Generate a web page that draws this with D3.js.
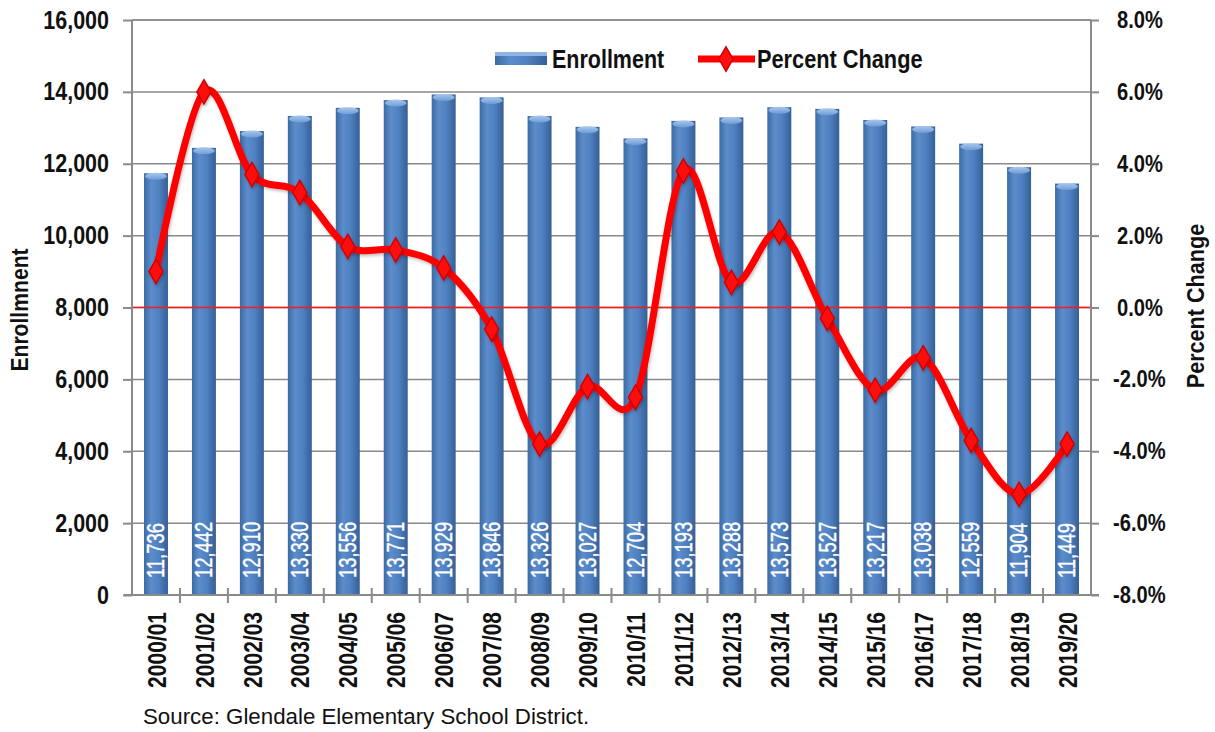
<!DOCTYPE html>
<html>
<head>
<meta charset="utf-8">
<script src="https://cdn.jsdelivr.net/npm/d3@7"></script>
<style>
  html, body { margin: 0; padding: 0; background: #ffffff; }
  svg { display: block; }
  text { font-family: "Liberation Sans", Arial, sans-serif; }
</style>
</head>
<body>
<script>
const categories = ["2000/01","2001/02","2002/03","2003/04","2004/05","2005/06","2006/07","2007/08","2008/09","2009/10",
                    "2010/11","2011/12","2012/13","2013/14","2014/15","2015/16","2016/17","2017/18","2018/19","2019/20"];
const enrollment = [11736,12442,12910,13330,13556,13771,13929,13846,13326,13027,
                    12704,13193,13288,13573,13527,13217,13038,12559,11904,11449];
const percentChange = [1.0,6.0,3.7,3.2,1.7,1.6,1.1,-0.6,-3.8,-2.2,
                       -2.5,3.8,0.7,2.1,-0.3,-2.3,-1.4,-3.7,-5.2,-3.8];
const leftTicks = [0,2000,4000,6000,8000,10000,12000,14000,16000];
const rightTicks = [-8,-6,-4,-2,0,2,4,6,8];
const seriesNames = ["Enrollment", "Percent Change"];
const leftTitle = "Enrollmnent";
const rightTitle = "Percent Change";
const sourceText = "Source: Glendale Elementary School District.";

const W = 1215, H = 732;
const plot = { left: 132, right: 1091, top: 20, bottom: 595 };

const svg = d3.select("body").append("svg").attr("width", W).attr("height", H);
const defs = svg.append("defs");
const grad = defs.append("linearGradient").attr("id", "barGrad").attr("x1", "0%").attr("x2", "100%").attr("y1", "0%").attr("y2", "0%");
grad.append("stop").attr("offset", "0%").attr("stop-color", "#3d6aa3");
grad.append("stop").attr("offset", "30%").attr("stop-color", "#5b8ccc");
grad.append("stop").attr("offset", "60%").attr("stop-color", "#5082c2");
grad.append("stop").attr("offset", "100%").attr("stop-color", "#365f97");
const capGrad = defs.append("linearGradient").attr("id", "capGrad").attr("x1", "0%").attr("x2", "0%").attr("y1", "0%").attr("y2", "100%");
capGrad.append("stop").attr("offset", "0%").attr("stop-color", "#a9c8ee");
capGrad.append("stop").attr("offset", "100%").attr("stop-color", "#6f9bd6");
const shadow = defs.append("filter").attr("id", "shadow").attr("x", "-20%").attr("y", "-20%").attr("width", "140%").attr("height", "140%");
shadow.append("feDropShadow").attr("dx", 1).attr("dy", 2).attr("stdDeviation", 1.5).attr("flood-color", "#000").attr("flood-opacity", 0.25);

const x = d3.scaleBand().domain(categories).range([plot.left, plot.right]).paddingInner(0.5).paddingOuter(0.25);
const xb = d3.scaleBand().domain(categories).range([plot.left, plot.right]);
const yL = d3.scaleLinear().domain([0, 16000]).range([plot.bottom, plot.top]);
const yR = d3.scaleLinear().domain([-8, 8]).range([plot.bottom, plot.top]);
const fmtPct = v => d3.format(".1f")(v).replace("\u2212", "-") + "%";

// condensed text helper
function ctext(g, tx, ty, rot, sx, str, opts) {
  return g.append("text")
    .attr("transform", `translate(${tx},${ty})` + (rot ? ` rotate(${rot})` : "") + ` scale(${sx},1)`)
    .attr("x", 0).attr("y", 0)
    .attr("text-anchor", opts.anchor || "start")
    .attr("dominant-baseline", opts.baseline || "central")
    .attr("font-size", opts.size)
    .attr("font-weight", opts.weight || "normal")
    .attr("fill", opts.fill || "#111")
    .text(str);
}

// gridlines
svg.append("g").selectAll("line").data(leftTicks.filter(d => d > 0)).join("line")
  .attr("x1", plot.left).attr("x2", plot.right)
  .attr("y1", d => yL(d)).attr("y2", d => yL(d))
  .attr("stroke", "#8a8a8a").attr("stroke-width", 1.5);

// bars
const bars = svg.append("g");
categories.forEach((c, i) => {
  const bx = x(c), bw = x.bandwidth(), top = yL(enrollment[i]);
  bars.append("rect").attr("x", bx).attr("y", top).attr("width", bw).attr("height", plot.bottom - top)
    .attr("fill", "url(#barGrad)");
  bars.append("ellipse").attr("cx", bx + bw / 2).attr("cy", top + 3).attr("rx", bw / 2 - 1).attr("ry", 3.5)
    .attr("fill", "url(#capGrad)");
});

// zero line for percent
svg.append("line").attr("x1", plot.left).attr("x2", plot.right)
  .attr("y1", yR(0)).attr("y2", yR(0)).attr("stroke", "#ff1a1a").attr("stroke-width", 1.5);

// bar value labels
const gV = svg.append("g");
categories.forEach((c, i) => {
  ctext(gV, x(c) + x.bandwidth() / 2, 578, -90, 0.8, d3.format(",")(enrollment[i]),
        { size: 23, fill: "#ffffff", anchor: "start" }).attr("stroke", "#ffffff").attr("stroke-width", 0.4);
});

// axes lines
const axisColor = "#8a8a8a";
svg.append("line").attr("x1", plot.left).attr("x2", plot.left).attr("y1", plot.top).attr("y2", plot.bottom).attr("stroke", axisColor).attr("stroke-width", 2);
svg.append("line").attr("x1", plot.right).attr("x2", plot.right).attr("y1", plot.top).attr("y2", plot.bottom).attr("stroke", axisColor).attr("stroke-width", 2);
svg.append("line").attr("x1", plot.left - 8).attr("x2", plot.right + 8).attr("y1", plot.bottom).attr("y2", plot.bottom).attr("stroke", axisColor).attr("stroke-width", 2);
svg.append("line").attr("x1", plot.left).attr("x2", plot.right).attr("y1", plot.top).attr("y2", plot.top).attr("stroke", axisColor).attr("stroke-width", 1.5);

// left axis
const leftAxis = d3.axisLeft(yL).tickValues(leftTicks).tickFormat("").tickSize(9);
const gL = svg.append("g").attr("transform", `translate(${plot.left},0)`).call(leftAxis);
gL.select(".domain").remove();
gL.selectAll(".tick line").attr("stroke", axisColor).attr("stroke-width", 2);
const gLl = svg.append("g");
leftTicks.forEach(v => ctext(gLl, 109, yL(v), 0, 0.86, d3.format(",")(v), { size: 25, weight: "bold", anchor: "end" }));

// right axis
const rightAxis = d3.axisRight(yR).tickValues(rightTicks).tickFormat("").tickSize(8);
const gR = svg.append("g").attr("transform", `translate(${plot.right},0)`).call(rightAxis);
gR.select(".domain").remove();
gR.selectAll(".tick line").attr("stroke", axisColor).attr("stroke-width", 2);
const gRl = svg.append("g");
rightTicks.forEach(v => ctext(gRl, v < 0 ? 1113 : 1117, yR(v), 0, 0.84, fmtPct(v), { size: 24, weight: "bold", anchor: "start" }));

// x axis ticks (band boundaries)
const gX = svg.append("g");
gX.selectAll("line").data(categories.slice(1)).join("line")
  .attr("x1", d => xb(d)).attr("x2", d => xb(d))
  .attr("y1", plot.bottom - 7).attr("y2", plot.bottom + 8)
  .attr("stroke", axisColor).attr("stroke-width", 2);
categories.forEach(c => ctext(gX, xb(c) + xb.bandwidth() / 2 + 1, 612, -90, 0.84, c, { size: 25, weight: "bold", anchor: "end" }));

// line series
const line = d3.line().x((d, i) => xb(categories[i]) + xb.bandwidth() / 2).y(d => yR(d)).curve(d3.curveCardinal.tension(0));
svg.append("path").datum(percentChange).attr("d", line).attr("fill", "none")
  .attr("stroke", "#ff0000").attr("stroke-width", 7).attr("stroke-linejoin", "round").attr("filter", "url(#shadow)");
const diamond = d3.symbol().type(d3.symbolDiamond).size(170);
svg.append("g").selectAll("path").data(percentChange).join("path")
  .attr("transform", (d, i) => `translate(${xb(categories[i]) + xb.bandwidth() / 2},${yR(d)})`)
  .attr("d", diamond)
  .attr("fill", "#ff1010").attr("stroke", "#d00000").attr("stroke-width", 1.5).attr("filter", "url(#shadow)");

// axis titles
ctext(svg, 20, 310, -90, 0.88, leftTitle, { size: 24, weight: "bold", anchor: "middle" });
ctext(svg, 1196, 306, -90, 0.9, rightTitle, { size: 24, weight: "bold", anchor: "middle" });

// legend
const lg = svg.append("g");
lg.append("rect").attr("x", 495).attr("y", 52).attr("width", 52).attr("height", 13).attr("fill", "url(#barGrad)");
lg.append("rect").attr("x", 495).attr("y", 52).attr("width", 52).attr("height", 4).attr("fill", "#8fb3e3");
ctext(lg, 552, 59, 0, 0.86, seriesNames[0], { size: 25, weight: "bold", anchor: "start" });
lg.append("line").attr("x1", 698).attr("x2", 755).attr("y1", 59).attr("y2", 59).attr("stroke", "#ff0000").attr("stroke-width", 7);
lg.append("path").attr("transform", "translate(726,59)").attr("d", diamond).attr("fill", "#ff1010").attr("stroke", "#d00000").attr("stroke-width", 1.5);
ctext(lg, 757, 59, 0, 0.87, seriesNames[1], { size: 25, weight: "bold", anchor: "start" });

// source
svg.append("text").attr("x", 143).attr("y", 724).attr("font-size", 22.3).attr("fill", "#111").text(sourceText);
</script>
</body>
</html>
